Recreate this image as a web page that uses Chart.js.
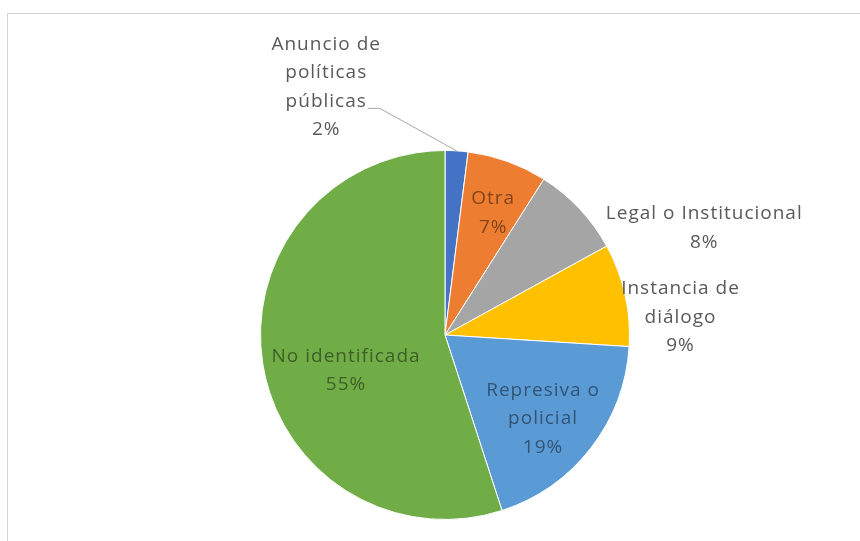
<!DOCTYPE html>
<html>
<head>
<meta charset="utf-8">
<script src="https://cdn.jsdelivr.net/npm/chart.js@4"></script>
<style>
  html, body { margin: 0; padding: 0; background: #fff; }
  #wrap { position: relative; width: 860px; height: 541px; }
  #frame {
    position: absolute; left: 7px; top: 13px; right: 0; bottom: 0;
    border-left: 1px solid #d4d4d4; border-top: 1px solid #d4d4d4;
  }
  canvas { position: absolute; left: 0; top: 0; }
</style>
</head>
<body>
<div id="wrap">
  <div id="frame"></div>
  <canvas id="pieChart" width="860" height="541"></canvas>
</div>
<script>
const categories = [
  ["Anuncio de", "políticas", "públicas"],
  ["Otra"],
  ["Legal o Institucional"],
  ["Instancia de", "diálogo"],
  ["Represiva o", "policial"],
  ["No identificada"],
];
const shares = [2, 7, 8, 9, 19, 55];
const colors = ["#4472C4", "#ED7D31", "#A5A5A5", "#FFC000", "#5B9BD5", "#70AD47"];
const textColors = ["#595959", "#82451b", "#595959", "#595959", "#325575", "#3e5f27"];

// where each label block sits: angle (deg, clockwise from top) and distance in radii
const labelPos = [
  { a: 334.4, r: 1.49, leader: true },
  { a: 21.6, r: 0.71 },
  { a: 67.6, r: 1.52 },
  { a: 85.7, r: 1.28 },
  { a: 130.6, r: 0.70 },
  { a: 250.2, r: 0.57 },
];

const FONT = '19px "Open Sans", sans-serif';
const LINE_H = 28.5;

const pieLabels = {
  id: "pieLabels",
  afterDatasetsDraw(chart) {
    const ctx = chart.ctx;
    const arcs = chart.getDatasetMeta(0).data;
    ctx.save();
    ctx.font = FONT;
    ctx.letterSpacing = "1px";
    ctx.textAlign = "center";
    ctx.textBaseline = "middle";
    arcs.forEach((arc, i) => {
      const { x, y, outerRadius, startAngle, endAngle } = arc.getProps(
        ["x", "y", "outerRadius", "startAngle", "endAngle"], true);
      const p = labelPos[i];
      const t = (p.a - 90) * Math.PI / 180;
      const cx = x + Math.cos(t) * outerRadius * p.r;
      const cy = y + Math.sin(t) * outerRadius * p.r;
      const lines = categories[i].concat([shares[i] + "%"]);
      const top = cy - (lines.length - 1) * LINE_H / 2;
      ctx.fillStyle = textColors[i];
      lines.forEach((ln, k) => ctx.fillText(ln, cx, top + k * LINE_H));

      if (p.leader) {
        // connector from the end of the third label line to the slice edge
        const mid = (startAngle + endAngle) / 2;
        const ex = x + Math.cos(mid) * outerRadius;
        const ey = y + Math.sin(mid) * outerRadius;
        const w = ctx.measureText(categories[i][2]).width;
        const ly = top + 2 * LINE_H + 7;
        const lx = cx + w / 2 + 1;
        ctx.strokeStyle = "#a6a6a6";
        ctx.lineWidth = 1;
        ctx.beginPath();
        ctx.moveTo(lx, ly);
        ctx.lineTo(lx + 12, ly);
        ctx.lineTo(ex, ey);
        ctx.stroke();
      }
    });
    ctx.restore();
  },
};

new Chart(document.getElementById("pieChart"), {
  type: "pie",
  data: {
    labels: categories.map((c) => c.join(" ")),
    datasets: [
      {
        data: shares,
        backgroundColor: colors,
        borderColor: "#ffffff",
        borderWidth: 1,
      },
    ],
  },
  options: {
    responsive: false,
    animation: false,
    layout: { padding: { left: 260, top: 150, right: 230, bottom: 21 } },
    plugins: {
      legend: { display: false },
      tooltip: { enabled: false },
    },
  },
  plugins: [pieLabels],
});
</script>
</body>
</html>
